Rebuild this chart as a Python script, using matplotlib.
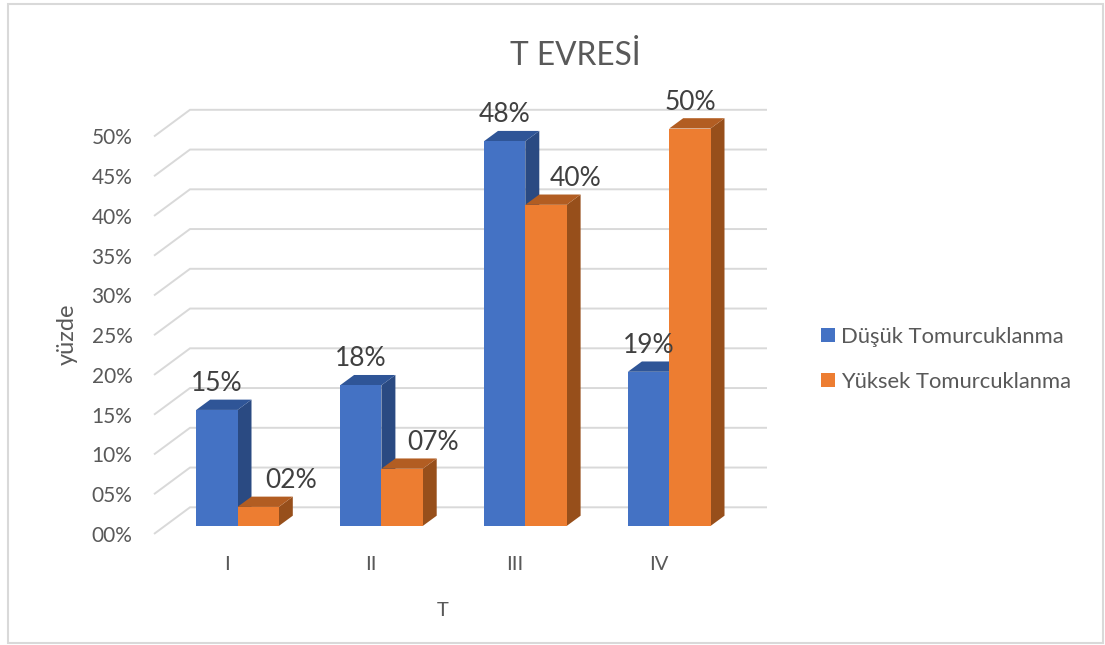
import matplotlib
matplotlib.use("Agg")
import matplotlib.pyplot as plt
from matplotlib.patches import Polygon, Rectangle

plt.rcParams["font.family"] = ["Lato", "DejaVu Sans"]

# Data (percent)
categories = ["I", "II", "III", "IV"]
dusuk = [14.6, 17.7, 48.4, 19.4]
yuksek = [2.4, 7.2, 40.4, 50.0]
y_ticks = [0, 5, 10, 15, 20, 25, 30, 35, 40, 45, 50]
series_names = ["Düşük Tomurcuklanma", "Yüksek Tomurcuklanma"]

# Face colours: front, top, side
BLUE = ("#4472C4", "#2F5597", "#2A4A82")
ORANGE = ("#ED7D31", "#B25D22", "#974F1B")
GRID = "#D9D9D9"
TICK_TEXT = "#595959"
VALUE_TEXT = "#404040"

W, H = 1105, 645
fig = plt.figure(figsize=(W / 100, H / 100), dpi=100, facecolor="white")

# Plot box in figure pixels
left, right, top, bottom = 154, 767, 109.5, 534
ax = fig.add_axes([left / W, 1 - bottom / H, (right - left) / W, (bottom - top) / H])

# Scale: one category step is 143.9 px, one percent is 7.95 px
x_step, y_step = 143.9, 7.95
x_origin, y_origin = 237.5, 526
ax.set_xlim((left - x_origin) / x_step, (right - x_origin) / x_step)
ax.set_ylim((y_origin - bottom) / y_step, (y_origin - top) / y_step)
for s in ax.spines.values():
    s.set_visible(False)
ax.patch.set_alpha(0)

# Perspective shifts, in data units
floor_front = -1.0
floor_back = (y_origin - 507.3) / y_step
wall_x = (190 - x_origin) / x_step
depth_x = 14 / x_step
depth_y = 10.3 / y_step
bar_w = 41.3 / x_step

# Gridlines run along the side wall and then across the back wall
for v in y_ticks:
    ax.plot([ax.get_xlim()[0], wall_x, ax.get_xlim()[1]],
            [v + floor_front, v + floor_back, v + floor_back],
            color=GRID, lw=1.4, zorder=1, clip_on=False,
            solid_joinstyle="miter", solid_capstyle="butt")


def extruded_bars(xs, values, colors, z, label):
    """Front faces plus top and side faces offset by the chart depth."""
    front, top_c, side = colors
    for x, v in zip(xs, values):
        x0, x1 = x - bar_w / 2, x + bar_w / 2
        ax.add_patch(Polygon([(x1, 0), (x1 + depth_x, depth_y), (x1 + depth_x, v + depth_y), (x1, v)],
                             closed=True, fc=side, ec="none", zorder=z))
        ax.add_patch(Polygon([(x0, v), (x0 + depth_x, v + depth_y), (x1 + depth_x, v + depth_y), (x1, v)],
                             closed=True, fc=top_c, ec="none", zorder=z))
    return ax.bar(xs, values, width=bar_w, color=front, zorder=z + 0.5, label=label, linewidth=0)


pos = list(range(len(categories)))
blue_x = [p - bar_w / 2 for p in pos]
orange_x = [p + bar_w / 2 for p in pos]
bars_d = extruded_bars(blue_x, dusuk, BLUE, 2, series_names[0])
bars_y = extruded_bars(orange_x, yuksek, ORANGE, 3, series_names[1])

# Value labels sit above each bar; some orange ones are pushed right, clear of the bar
orange_nudge = [33, 31, 30, 1]
for x, v in zip(blue_x, dusuk):
    ax.annotate(f"{round(v):02d}%", (x, v), xytext=(0, 19), textcoords="offset points",
                ha="center", va="center", fontsize=19, color=VALUE_TEXT, zorder=6)
for x, v, n in zip(orange_x, yuksek, orange_nudge):
    ax.annotate(f"{round(v):02d}%", (x, v), xytext=(n * 0.72, 19), textcoords="offset points",
                ha="center", va="center", fontsize=19, color=VALUE_TEXT, zorder=6)

# Axis ticks
ax.set_yticks([v + floor_front for v in y_ticks], [f"{v:02d}%" for v in y_ticks])
ax.tick_params(axis="y", length=0, pad=15.5, labelsize=15, labelcolor=TICK_TEXT)
ax.set_xticks([p - 0.075 for p in pos], categories)
ax.tick_params(axis="x", length=0, pad=15.5, labelsize=14.5, labelcolor=TICK_TEXT)

# Titles and axis names
ax.set_title("T EVRESİ", x=(575.5 - left) / (right - left), y=(bottom - 64) / (bottom - top),
             va="center", ha="center", fontsize=22.8, color=TICK_TEXT)
ax.set_ylabel("yüzde", fontsize=17, color=TICK_TEXT)
ax.yaxis.set_label_coords((78 - left) / (right - left), (bottom - 334) / (bottom - top))
ax.set_xlabel("T", fontsize=14.5, color=TICK_TEXT)
ax.xaxis.set_label_coords((443 - left) / (right - left), (bottom - 611) / (bottom - top))
ax.xaxis.label.set_va("center")

# Legend to the right of the plot
ax.legend(handles=[bars_d, bars_y], loc="upper left",
          bbox_to_anchor=(821 / W, 1 - 326.5 / H), bbox_transform=fig.transFigure,
          frameon=False, borderpad=0, borderaxespad=0, fontsize=15.8,
          handlelength=0.64, handleheight=0.64, handletextpad=0.27, labelspacing=1.15,
          labelcolor=TICK_TEXT)

# Chart outline
fig.add_artist(Rectangle((8 / W, 1 - 643 / H), (1103 - 8) / W, (643 - 4) / H,
                         transform=fig.transFigure, fill=False, ec=GRID, lw=1.5))

fig.savefig("out.png", dpi=100)
